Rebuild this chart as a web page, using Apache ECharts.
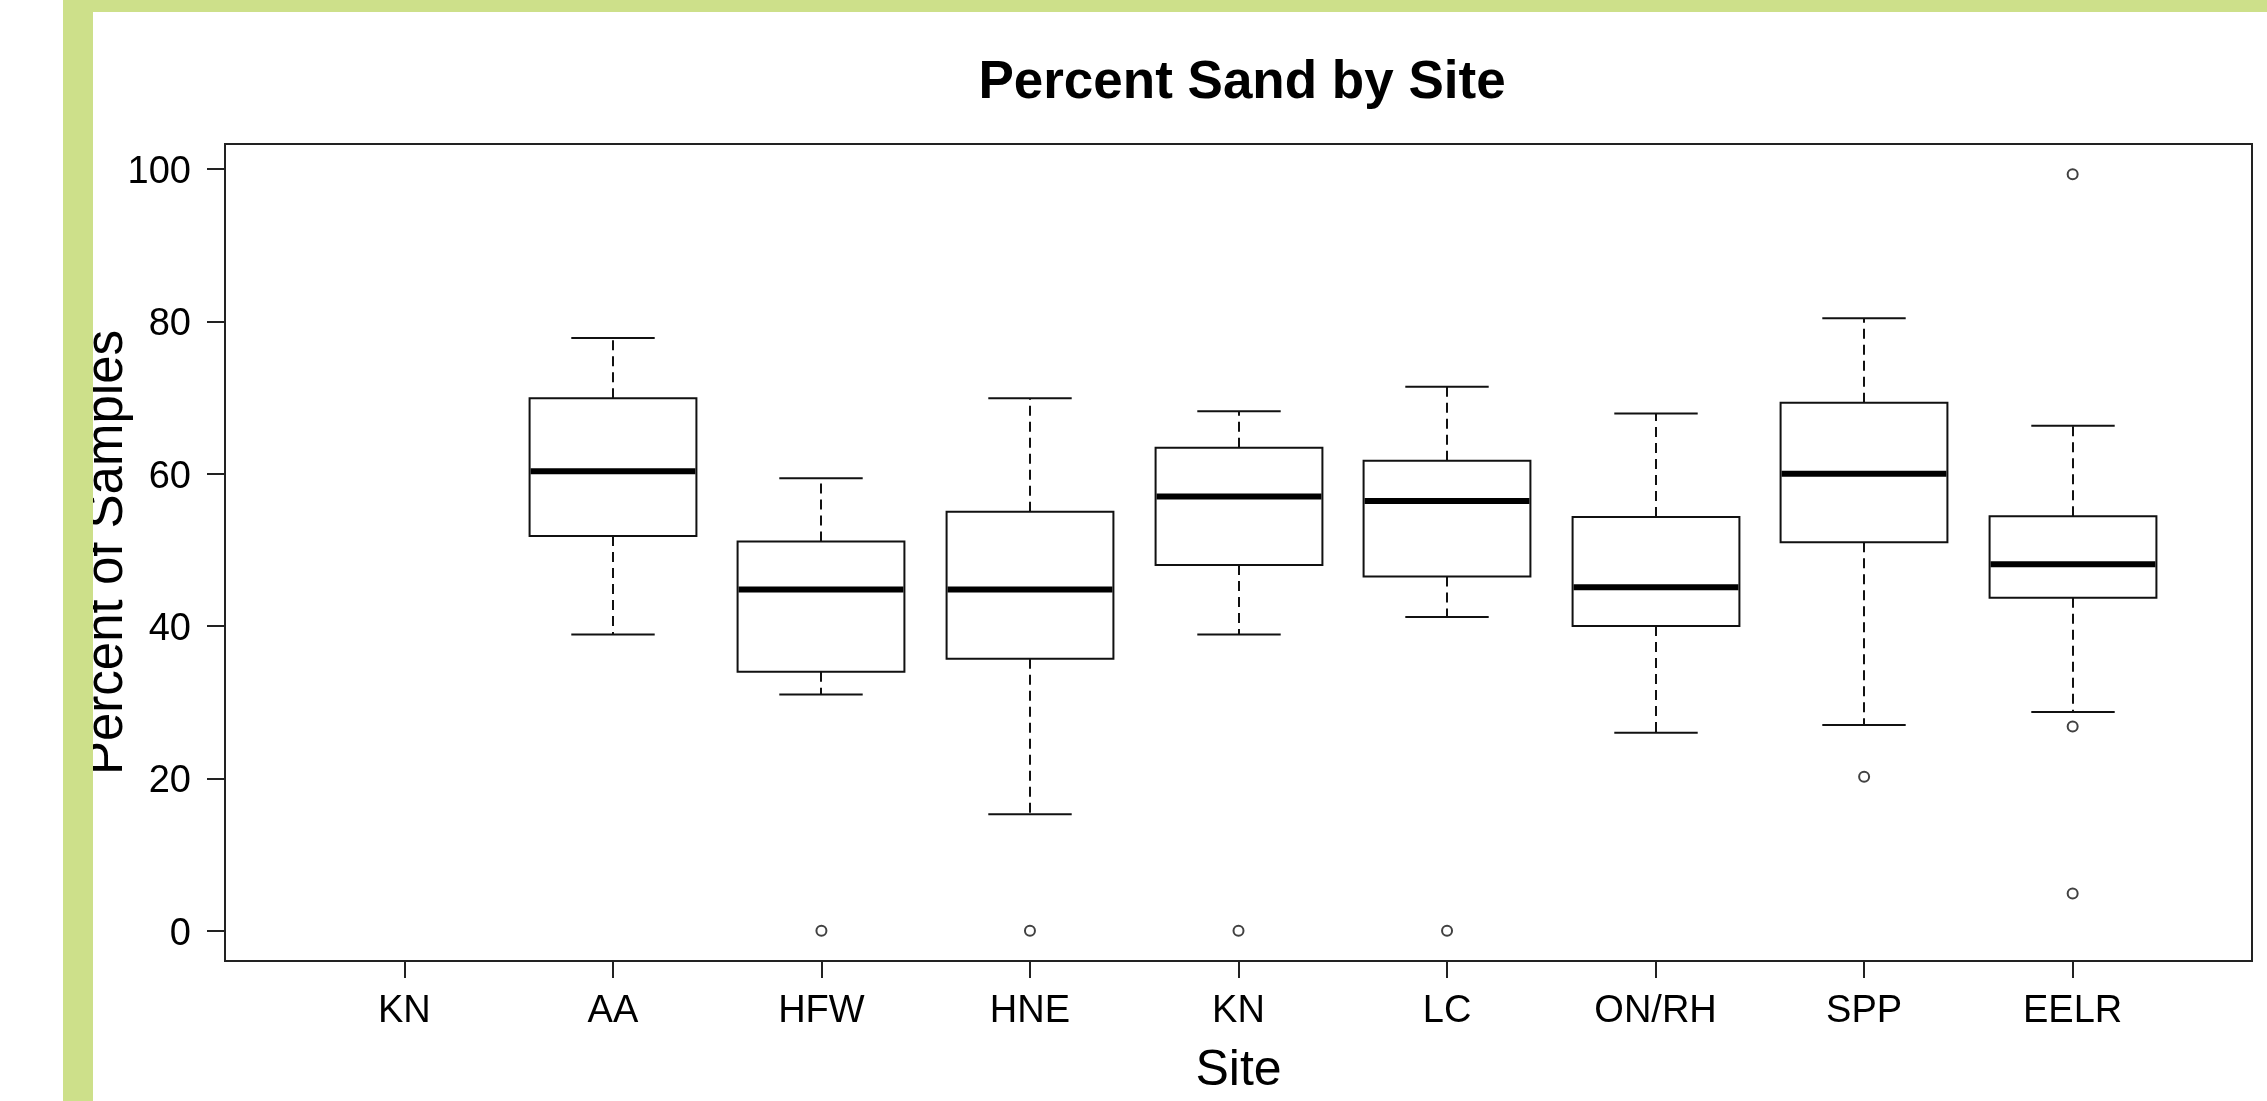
<!DOCTYPE html>
<html>
<head>
<meta charset="utf-8">
<script src="https://cdn.jsdelivr.net/npm/echarts@6/dist/echarts.min.js"></script>
<style>
html,body{margin:0;padding:0;background:#fff;}
#chart{width:2267px;height:1101px;}
</style>
</head>
<body>
<div id="chart"></div>
<script>
// ---- Data ----
const sites        = ["KN", "AA", "HFW", "HNE", "KN", "LC", "ON/RH", "SPP", "EELR"];
const whiskerLow   = [null, 38.9, 31.0, 15.3, 38.9, 41.2, 26.0, 27.0, 28.7];
const boxLow       = [null, 51.8, 34.0, 35.7, 48.0, 46.5, 40.0, 51.0, 43.7];
const medians      = [null, 60.3, 44.8, 44.8, 57.0, 56.4, 45.1, 60.0, 48.1];
const boxHigh      = [null, 69.9, 51.1, 55.0, 63.4, 61.7, 54.3, 69.3, 54.4];
const whiskerHigh  = [null, 77.8, 59.4, 69.9, 68.2, 71.4, 67.9, 80.4, 66.3];
const outlierSite  = [3, 4, 5, 6, 8, 9, 9, 9];
const outlierValue = [0, 0, 0, 0, 20.2, 99.3, 26.8, 4.9];
const yTicks       = [0, 20, 40, 60, 80, 100];

// ---- Build series data ----
const boxData = [];
sites.forEach((s, i) => {
  if (medians[i] == null) return;
  boxData.push([i + 1, whiskerLow[i], boxLow[i], medians[i], boxHigh[i], whiskerHigh[i]]);
});
const outlierData = outlierSite.map((s, i) => [s, outlierValue[i]]);
const xPositions = sites.map((s, i) => i + 1);

const BOX_W = 0.8, CAP_W = 0.4;
function renderBox(params, api) {
  const x = api.value(0);
  const pLw = api.coord([x, api.value(1)]);
  const pQ1 = api.coord([x, api.value(2)]);
  const pMd = api.coord([x, api.value(3)]);
  const pQ3 = api.coord([x, api.value(4)]);
  const pUw = api.coord([x, api.value(5)]);
  const half = api.size([BOX_W, 0])[0] / 2;
  const capHalf = api.size([CAP_W, 0])[0] / 2;
  const cx = Math.round(pMd[0]);
  const stroke = '#111';
  const dash = {stroke: stroke, lineWidth: 2, lineDash: [10, 6]};
  const solid = {stroke: stroke, lineWidth: 2};
  return {
    type: 'group',
    children: [
      {type: 'line', shape: {x1: cx, y1: pQ3[1], x2: cx, y2: pUw[1]}, style: dash},
      {type: 'line', shape: {x1: cx, y1: pQ1[1], x2: cx, y2: pLw[1]}, style: dash},
      {type: 'line', shape: {x1: cx - capHalf, y1: pUw[1], x2: cx + capHalf, y2: pUw[1]}, style: solid},
      {type: 'line', shape: {x1: cx - capHalf, y1: pLw[1], x2: cx + capHalf, y2: pLw[1]}, style: solid},
      {type: 'rect', shape: {x: cx - half, y: pQ3[1], width: half * 2, height: pQ1[1] - pQ3[1]},
        style: {fill: '#fff', stroke: stroke, lineWidth: 2}},
      {type: 'line', shape: {x1: cx - half + 1, y1: pMd[1], x2: cx + half - 1, y2: pMd[1]},
        style: {stroke: '#000', lineWidth: 6}}
    ]
  };
}

const chart = echarts.init(document.getElementById('chart'), null, {renderer: 'canvas'});
const font = '"Liberation Sans", Arial, sans-serif';
chart.setOption({
  backgroundColor: '#fff',
  animation: false,
  textStyle: {fontFamily: font},
  title: {
    text: 'Percent Sand by Site',
    left: 1237, top: 52, textAlign: 'center',
    textStyle: {fontFamily: font, fontSize: 53, fontWeight: 'bold', color: '#000'}
  },
  grid: {
    left: 225, top: 144, right: 15, bottom: 139,
    show: true, borderColor: '#222', borderWidth: 2, backgroundColor: 'transparent'
  },
  xAxis: {
    type: 'value', min: 0.14, max: 9.86,
    position: 'bottom',
    name: 'Site', nameLocation: 'middle', nameGap: 85,
    nameTextStyle: {fontFamily: font, fontSize: 50, color: '#000'},
    axisLine: {show: false, onZero: false},
    splitLine: {show: false},
    axisTick: {show: true, inside: false, length: 17, customValues: xPositions,
      lineStyle: {color: '#222', width: 2}},
    axisLabel: {customValues: xPositions, margin: 32, fontSize: 38, color: '#000', fontFamily: font,
      formatter: v => sites[Math.round(v) - 1]}
  },
  yAxis: {
    type: 'value', min: -3.97, max: 103.27,
    position: 'left',
    name: 'Percent of Samples', nameLocation: 'middle', nameRotate: 90, nameGap: 92,
    nameMoveOverlap: false,
    nameTextStyle: {fontFamily: font, fontSize: 51, color: '#000'},
    axisLine: {show: false, onZero: false},
    splitLine: {show: false},
    axisTick: {show: true, inside: false, length: 18, customValues: yTicks,
      lineStyle: {color: '#222', width: 2}},
    axisLabel: {customValues: yTicks, margin: 34, fontSize: 38, color: '#000', fontFamily: font,
      verticalAlign: 'top', lineHeight: 7}
  },
  series: [
    {
      type: 'custom', name: 'box',
      renderItem: renderBox,
      encode: {x: 0, y: [1, 2, 3, 4, 5]},
      data: boxData, z: 2
    },
    {
      type: 'scatter', name: 'outliers',
      data: outlierData,
      symbol: 'circle', symbolSize: 10,
      itemStyle: {color: '#fff', borderColor: '#111', borderWidth: 2},
      z: 3
    }
  ],
  graphic: [
    {type: 'rect', z: 100, shape: {x: 63, y: 0, width: 30, height: 1101}, style: {fill: '#cde08a'}},
    {type: 'rect', z: 100, shape: {x: 63, y: 0, width: 2204, height: 12}, style: {fill: '#cde08a'}}
  ]
});
</script>
</body>
</html>
